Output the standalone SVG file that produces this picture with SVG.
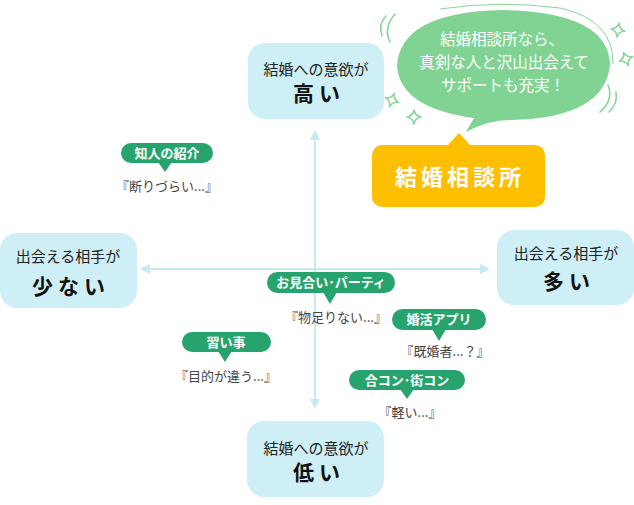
<svg xmlns="http://www.w3.org/2000/svg" width="634" height="505" viewBox="0 0 634 505">
<defs>
<style>
.box{fill:#cdeff5}
.t1{font-family:"Noto Sans CJK JP","Noto Sans",sans-serif;font-size:15px;fill:#222;text-anchor:middle}
.t2{font-family:"Noto Sans CJK JP","Noto Sans",sans-serif;font-size:21px;font-weight:bold;fill:#111;text-anchor:middle;letter-spacing:5px}
.pill{fill:#27a46e}
.pt{font-family:"Noto Sans CJK JP","Noto Sans",sans-serif;font-size:13px;font-weight:bold;fill:#fff;text-anchor:middle}
.q{font-family:"Noto Sans CJK JP","Noto Sans",sans-serif;font-size:13px;fill:#444;text-anchor:middle}
.ax{stroke:#c5eaf2;stroke-width:2;fill:none}
.ah{fill:#c5eaf2}
.deco{stroke:#86d69a;stroke-width:1.6;fill:none;stroke-linecap:round;stroke-linejoin:round}
.bt{font-family:"Noto Sans CJK JP","Noto Sans",sans-serif;font-size:15.5px;fill:#fff;text-anchor:middle}
</style>
<path id="spark" d="M0,-7 Q1,-1 7,0 Q1,1 0,7 Q-1,1 -7,0 Q-1,-1 0,-7 Z"/>
</defs>
<rect width="634" height="505" fill="#fff"/>

<g id="connectors">
<line class="ax" x1="148" y1="269" x2="482" y2="269"/>
<polygon class="ah" points="140,269 150,264 150,274"/>
<polygon class="ah" points="490,269 480,264 480,274"/>
<line class="ax" x1="315" y1="140" x2="315" y2="400"/>
<polygon class="ah" points="315,130 310,140 320,140"/>
<polygon class="ah" points="315,409 310,399 320,399"/>
</g>

<g id="node-high">
<rect class="box" x="248" y="43" width="136" height="76" rx="17"/>
<text class="t1" x="316" y="75">結婚への意欲が</text>
<text class="t2" x="319" y="101">高い</text>
</g>
<g id="node-low">
<rect class="box" x="247" y="421" width="137" height="76" rx="17"/>
<text class="t1" x="316" y="454">結婚への意欲が</text>
<text class="t2" x="319" y="480">低い</text>
</g>
<g id="node-few">
<rect class="box" x="0" y="233" width="137" height="75" rx="17"/>
<text class="t1" x="68" y="262">出会える相手が</text>
<text class="t2" x="71" y="294">少ない</text>
</g>
<g id="node-many">
<rect class="box" x="497" y="230" width="137" height="75" rx="17"/>
<text class="t1" x="566" y="259">出会える相手が</text>
<text class="t2" x="569" y="289">多い</text>
</g>

<g id="bubble">
<path class="deco" d="M390,42 Q383,28 395,14"/>
<path class="deco" d="M382,36 Q378,24 386,16"/>
<path class="deco" d="M608,85 Q614,100 600,112"/>
<path class="deco" d="M616,92 Q618,104 609,112"/>
<use href="#spark" class="deco" transform="translate(392,100) rotate(20)"/>
<use href="#spark" class="deco" transform="translate(414,117)"/>
<use href="#spark" class="deco" transform="translate(618,30) rotate(10)"/>
<use href="#spark" class="deco" transform="translate(626,59) rotate(-20)"/>
<path d="M466,132 L474,118 Q400,108 397,66 Q400,12 503,10 Q608,12 610,64 Q606,118 510,120 Q488,120 466,132 Z" fill="#80d393"/>
<path d="M440,9 Q500,0 560,8 Q614,20 613,64" fill="none" stroke="#86d69a" stroke-width="1"/>
<text class="bt" x="502" y="45">結婚相談所なら、</text>
<text class="bt" x="504" y="68">真剣な人と沢山出会えて</text>
<text class="bt" x="503" y="91">サポートも充実！</text>
</g>

<g id="node-agency">
<rect x="372" y="145" width="173" height="62" rx="10" fill="#fdbf00"/>
<polygon points="447,146 459,133 471,146" fill="#fdbf00"/>
<text x="460" y="185" font-family="'Noto Sans CJK JP','Noto Sans',sans-serif" font-size="22" font-weight="bold" fill="#fff" text-anchor="middle" letter-spacing="4">結婚相談所</text>
</g>

<g id="label-chijin">
<rect class="pill" x="121" y="143" width="92" height="20" rx="10"/>
<polygon class="pill" points="158,162 172,162 165,172"/>
<text class="pt" x="167" y="158">知人の紹介</text>
<text class="q" x="167" y="191">『断りづらい...』</text>
</g>
<g id="label-omiai">
<rect class="pill" x="267" y="272" width="128" height="21" rx="10.5"/>
<polygon class="pill" points="323,292 337,292 330,304"/>
<text class="pt" x="331" y="287">お見合い･パーティ</text>
<text class="q" x="336" y="322">『物足りない...』</text>
</g>
<g id="label-app">
<rect class="pill" x="392" y="309" width="94" height="21" rx="10.5"/>
<polygon class="pill" points="432,329 446,329 439,341"/>
<text class="pt" x="439" y="324">婚活アプリ</text>
<text class="q" x="445" y="356">『既婚者...？』</text>
</g>
<g id="label-naraigoto">
<rect class="pill" x="182" y="332" width="89" height="20" rx="10"/>
<polygon class="pill" points="218,351 232,351 225,362"/>
<text class="pt" x="226" y="347">習い事</text>
<text class="q" x="226" y="381">『目的が違う...』</text>
</g>
<g id="label-goukon">
<rect class="pill" x="349" y="370" width="116" height="20" rx="10"/>
<polygon class="pill" points="400,389 414,389 407,399"/>
<text class="pt" x="407" y="385">合コン･街コン</text>
<text class="q" x="410" y="417">『軽い...』</text>
</g>
</svg>
